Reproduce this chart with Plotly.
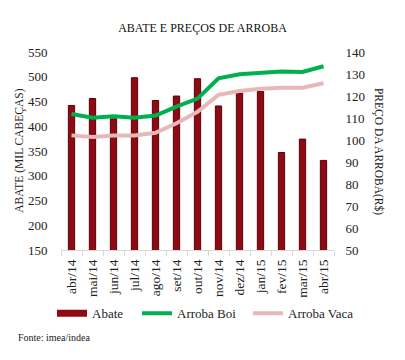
import plotly.graph_objects as go

months = ["abr/14", "mai/14", "jun/14", "jul/14", "ago/14", "set/14", "out/14",
          "nov/14", "dez/14", "jan/15", "fev/15", "mar/15", "abr/15"]
abate = [442, 456, 415, 498, 452, 461, 496, 441, 467, 470, 347, 374, 331]
arroba_boi = [111.8, 110.1, 110.8, 110.1, 111.1, 115.2, 118.8, 128.0, 129.9, 130.6, 131.1, 130.9, 133.5]
arroba_vaca = [102.1, 101.4, 102.0, 102.1, 103.3, 107.6, 112.8, 120.5, 122.3, 123.3, 123.8, 123.8, 125.8]

left_ticks = [150, 200, 250, 300, 350, 400, 450, 500, 550]
right_ticks = [50, 60, 70, 80, 90, 100, 110, 120, 130, 140]

FONT = "Liberation Serif"
BAR = "#8E0A14"

fig = go.Figure()
fig.add_trace(go.Bar(x=months, y=abate, name="Abate", width=0.3,
                     marker=dict(color=BAR, line=dict(color="#5A0008", width=1)),
                     showlegend=False))
fig.add_trace(go.Scatter(x=[None], y=[None], mode="lines", name="Abate",
                         line=dict(color=BAR, width=7), legend="legend"))
fig.add_trace(go.Scatter(x=months, y=arroba_boi, mode="lines", name="Arroba Boi",
                         yaxis="y2", line=dict(color="#00B050", width=4), legend="legend2"))
fig.add_trace(go.Scatter(x=months, y=arroba_vaca, mode="lines", name="Arroba Vaca",
                         yaxis="y2", line=dict(color="#E6B9B8", width=4), legend="legend3"))

def leg(xpx):
    return dict(orientation="h", xref="container", yref="container",
                x=xpx / 405, xanchor="left", y=0.13, yanchor="middle",
                font=dict(size=13), bgcolor="rgba(0,0,0,0)")

fig.update_layout(
    width=405, height=360,
    margin=dict(l=61, r=71, t=52, b=110),
    paper_bgcolor="white", plot_bgcolor="white",
    font=dict(family=FONT, size=13, color="#222"),
    title=dict(text="ABATE E PREÇOS DE ARROBA", x=0.5, xanchor="center",
               y=0.922, yanchor="middle", font=dict(family=FONT, size=12, color="#111")),
    xaxis=dict(type="category", tickangle=-90, tickfont=dict(size=13.5),
               showline=True, linecolor="#D9D9D9", linewidth=1,
               ticks="outside", tickson="boundaries", ticklen=5, tickcolor="#D9D9D9",
               ticklabelstandoff=3, showgrid=False, automargin=False),
    yaxis=dict(range=[150, 550], tickvals=left_ticks, showgrid=False, zeroline=False,
               showline=False, ticks="outside", ticklen=10, tickcolor="rgba(0,0,0,0)",
               tickfont=dict(size=13), automargin=False),
    yaxis2=dict(range=[50, 140], tickvals=right_ticks, overlaying="y", side="right",
                showgrid=False, zeroline=False, showline=False, ticks="outside", ticklen=8,
                tickcolor="rgba(0,0,0,0)", tickfont=dict(size=13), automargin=False),
    legend=leg(52),
    legend2=leg(137),
    legend3=leg(248),
    annotations=[
        dict(text="ABATE (MIL CABEÇAS)", xref="paper", yref="paper", x=-0.155, y=0.5,
             xanchor="center", yanchor="middle", textangle=-90, showarrow=False,
             font=dict(size=11.5, color="#222")),
        dict(text="PREÇO DA ARROBA(R$)", xref="paper", yref="paper", x=1.165, y=0.5,
             xanchor="center", yanchor="middle", textangle=90, showarrow=False,
             font=dict(size=11.5, color="#222")),
        dict(text="Fonte: imea/indea", xref="paper", yref="paper", x=-0.165, y=-0.444,
             xanchor="left", yanchor="middle", showarrow=False,
             font=dict(size=10, color="#222")),
    ],
)

fig.write_html("out.html", config={"displayModeBar": False},
               post_script="document.body.style.margin='0';")
